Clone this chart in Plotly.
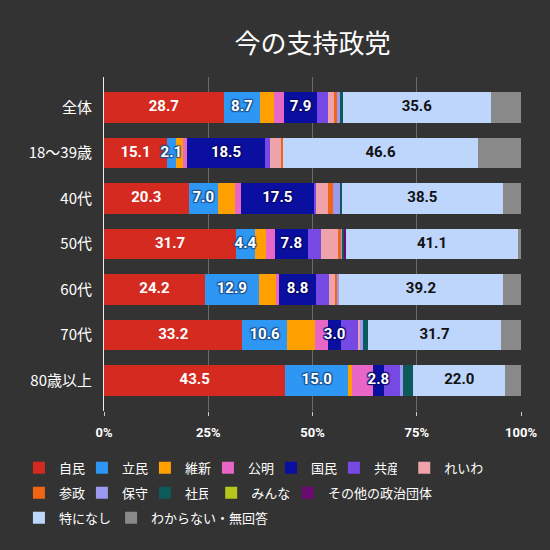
import plotly.graph_objects as go

# --- datos (lectura aproximada del gráfico) ---
filas = ["全体", "18〜39歳", "40代", "50代", "60代", "70代", "80歳以上"]

jimin = [28.7, 15.1, 20.3, 31.7, 24.2, 33.2, 43.5]
rikken = [8.7, 2.1, 7.0, 4.4, 12.9, 10.6, 15.0]
ishin = [3.4, 1.8, 4.1, 2.7, 4.1, 6.8, 0.9]
komei = [2.4, 1.0, 1.4, 2.2, 0.8, 3.2, 5.0]
kokumin = [7.9, 18.5, 17.5, 7.8, 8.8, 3.0, 2.8]
kyosan = [2.6, 1.4, 0.6, 3.2, 3.1, 4.2, 4.0]
reiwa = [1.5, 2.5, 2.9, 4.1, 1.5, 0.4, 0.0]
sansei = [0.6, 0.6, 1.2, 0.9, 0.5, 0.0, 0.0]
hoshu = [0.7, 0.0, 1.5, 0.1, 0.5, 0.8, 0.4]
shamin = [0.7, 0.0, 0.6, 0.5, 0.0, 1.2, 2.6]
minna = [0.0, 0.0, 0.0, 0.0, 0.0, 0.0, 0.0]
sonota = [0.0, 0.0, 0.0, 0.5, 0.0, 0.0, 0.0]
tokuni = [35.6, 46.6, 38.5, 41.1, 39.2, 31.7, 22.0]
wakaranai = [7.2, 10.4, 4.4, 0.8, 4.4, 4.9, 3.8]

x_ticks = [0, 25, 50, 75, 100]
x_ticktext = ["0%", "25%", "50%", "75%", "100%"]

FONDO = "#333333"
FUENTE = "Noto Sans CJK JP"
FUENTE_NUM = "Roboto, Noto Sans CJK JP"

# (nombre, valores, color, etiqueta, leyenda)
series = [
    ("自民", jimin, "#d42a20", "white", "legend"),
    ("立民", rikken, "#2e96f3", "white", "legend"),
    ("維新", ishin, "#ffa000", None, "legend"),
    ("公明", komei, "#e766c6", None, "legend"),
    ("国民", kokumin, "#0b0fa0", "white", "legend"),
    ("共産", kyosan, "#7648e4", None, "legend"),
    ("れいわ", reiwa, "#f0a2aa", None, "legend4"),
    ("参政", sansei, "#f06414", None, "legend2"),
    ("保守", hoshu, "#9b99f0", None, "legend2"),
    ("社民", shamin, "#0d5a5c", None, "legend2"),
    ("みんな", minna, "#b5c61f", None, "legend5"),
    ("その他の政治団体", sonota, "#6b0a70", None, "legend6"),
    ("特になし", tokuni, "#bed5fc", "#111111", "legend3"),
    ("わからない・無回答", wakaranai, "#898989", None, "legend7"),
]


def _sombra(c):
    return ", ".join(f"{a}px {b}px 1px {c}" for a, b in [(1, 1), (-1, -1), (1, -1), (-1, 1)])


contorno = {"立民": _sombra("#1a4f8a"), "国民": _sombra("#07096a")}

fig = go.Figure()
acumulado = [0.0] * len(filas)
etiquetas = []
for nombre, valores, color, color_txt, leyenda in series:
    fig.add_trace(go.Bar(
        y=filas, x=valores, name=nombre, orientation="h",
        marker=dict(color=color, line_width=0),
        hoverinfo="skip", legend=leyenda,
    ))
    if color_txt:
        centros = [a + v / 2 for a, v in zip(acumulado, valores)]
        etiquetas.append((nombre, valores, centros, color_txt))
    acumulado = [a + v for a, v in zip(acumulado, valores)]

# etiquetas encima de todas las barras
for nombre, valores, centros, color_txt in etiquetas:
    fuente = dict(family=FUENTE_NUM, size=15, color=color_txt, weight="bold")
    if nombre in contorno:
        fuente["shadow"] = contorno[nombre]
    fig.add_trace(go.Scatter(
        x=centros, y=filas, mode="text",
        text=[f"{v:.1f}" for v in valores],
        textposition="middle center", textfont=fuente,
        showlegend=False, hoverinfo="skip",
    ))

leyenda_base = dict(
    orientation="h", xanchor="left", yanchor="top",
    font=dict(family=FUENTE, size=13, color="white"),
    itemwidth=30, traceorder="normal", bgcolor="rgba(0,0,0,0)",
)

fig.update_layout(
    barmode="stack",
    bargap=0.33,
    width=550, height=550,
    paper_bgcolor=FONDO, plot_bgcolor=FONDO,
    margin=dict(l=104, r=29, t=77, b=139),
    title=dict(text="今の支持政党", x=0.5, xref="paper", xanchor="center",
               y=0.921, yanchor="middle",
               font=dict(family=FUENTE, size=26, color="white")),
    showlegend=True,
    legend=dict(leyenda_base, x=-0.204, y=-0.125, entrywidth=18),
    legend4=dict(leyenda_base, x=0.72, y=-0.125),
    legend2=dict(leyenda_base, x=-0.204, y=-0.2, entrywidth=18),
    legend5=dict(leyenda_base, x=0.257, y=-0.2),
    legend6=dict(leyenda_base, x=0.441, y=-0.2),
    legend3=dict(leyenda_base, x=-0.204, y=-0.275),
    legend7=dict(leyenda_base, x=0.017, y=-0.275),
    font=dict(family=FUENTE, color="white"),
)
fig.update_xaxes(
    range=[0, 100], tickvals=x_ticks, ticktext=x_ticktext,
    showgrid=True, gridcolor="#6a6a6a", gridwidth=1,
    zeroline=False, ticks="outside", ticklen=4, tickcolor="#cccccc",
    tickfont=dict(family=FUENTE_NUM, size=13, color="white", weight="bold"),
    ticklabelstandoff=5, fixedrange=True,
)
fig.update_yaxes(
    autorange=False, range=[6.67, -0.67],
    showline=True, linecolor="#eeeeee", linewidth=1,
    showgrid=False, ticks="", ticklabelstandoff=8,
    tickfont=dict(family=FUENTE, size=15, color="white"),
    fixedrange=True,
)

fig.write_html(
    "out.html",
    config={"displayModeBar": False},
    post_script="document.body.style.margin='0';document.body.style.background='#333333';",
)
